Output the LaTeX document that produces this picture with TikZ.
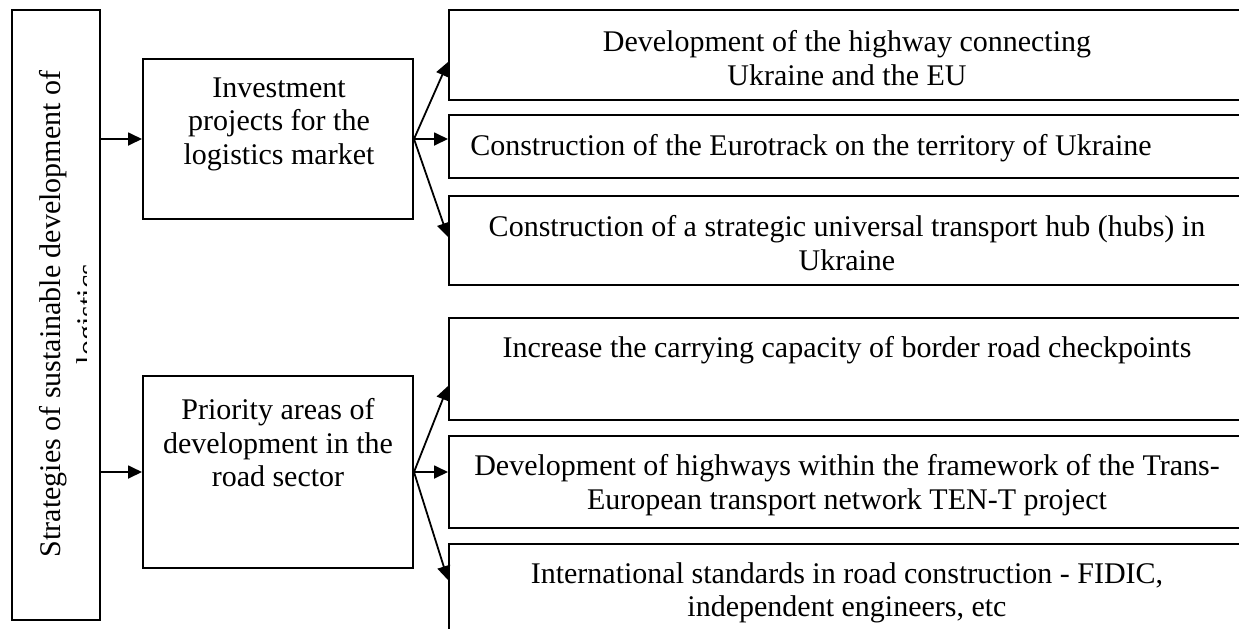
\documentclass[tikz,border=0pt]{standalone}
\usepackage{fontspec}
\setmainfont{Liberation Serif}
\usetikzlibrary{arrows.meta,positioning}
\tikzset{>={Triangle[length=7pt,width=6.5pt]}}
\tikzset{
	blk/.style={draw, line width=1pt, inner sep=0pt},
	txt/.style={align=center, inner sep=0pt, font=\fontsize{15}{16.75}\selectfont},
	conn/.style={->, line width=0.9pt}
}

\begin{document}
\begin{tikzpicture}[x=0.5pt, y=-0.5pt]
	\clip (0,0) rectangle (1239,628);

	% strategy block, second line runs out of the frame
	\node[blk, minimum width=44pt, minimum height=305pt] (strat) at (56,314.5) {};
	\begin{scope}
		\clip (12,10) rectangle (86,620);
		\node[txt, rotate=90, font=\fontsize{15}{18.5}\selectfont] (stratt) at (71.6,314) {Strategies of sustainable development of\\logistics};
	\end{scope}

	% middle column
	\node[blk, minimum width=135pt, minimum height=80pt] (inv) at (278,139) {};
	\node[txt] (invt) at (279,124) {Investment\\projects for the\\logistics market};
	\node[blk, minimum width=135pt, minimum height=96pt] (prio) at (278,472) {};
	\node[txt] (priot) at (278,443) {Priority areas of\\development in the\\road sector};

	% right column
	\node[blk, minimum width=398pt, minimum height=45pt] (r1) at (847,55) {};
	\node[txt] (r1t) at (847,58) {Development of the highway connecting\\Ukraine and the EU};
	\node[blk, minimum width=398pt, minimum height=31.5pt] (r2) at (847,146.5) {};
	\node[txt] (r2t) at (811,148) {Construction of the Eurotrack on the territory of Ukraine};
	\node[blk, minimum width=398pt, minimum height=44.5pt] (r3) at (847,240.5) {};
	\node[txt] (r3t) at (847,243) {Construction of a strategic universal transport hub (hubs) in\\Ukraine};

	\node[blk, minimum width=398pt, minimum height=51pt] (r4) at (847,369) {};
	\node[txt] (r4t) at (847,350) {Increase the carrying capacity of border road checkpoints};
	\node[blk, minimum width=398pt, minimum height=46pt] (r5) at (847,482) {};
	\node[txt] (r5t) at (847,485) {Development of highways within the framework of the Trans-\\European transport network TEN-T project};
	\node[blk, minimum width=398pt, minimum height=48pt] (r6) at (847,592) {};
	\node[txt] (r6t) at (847,593) {International standards in road construction - FIDIC,\\independent engineers, etc};

	% arrows
	\draw[conn] (strat.east |- inv.west) -- (inv.west);
	\draw[conn] (strat.east |- prio.west) -- (prio.west);

	\draw[conn] (inv.east) -- ([yshift=-3.5pt]r1.west);
	\draw[conn] (inv.east) -- (inv.east -| r2.west);
	\draw[conn] (inv.east) -- ([yshift=1.75pt]r3.west);

	\draw[conn] (prio.east) -- ([yshift=-8.5pt]r4.west);
	\draw[conn] (prio.east) -- (prio.east -| r5.west);
	\draw[conn] (prio.east) -- ([yshift=6pt]r6.west);

\end{tikzpicture}
\end{document}
